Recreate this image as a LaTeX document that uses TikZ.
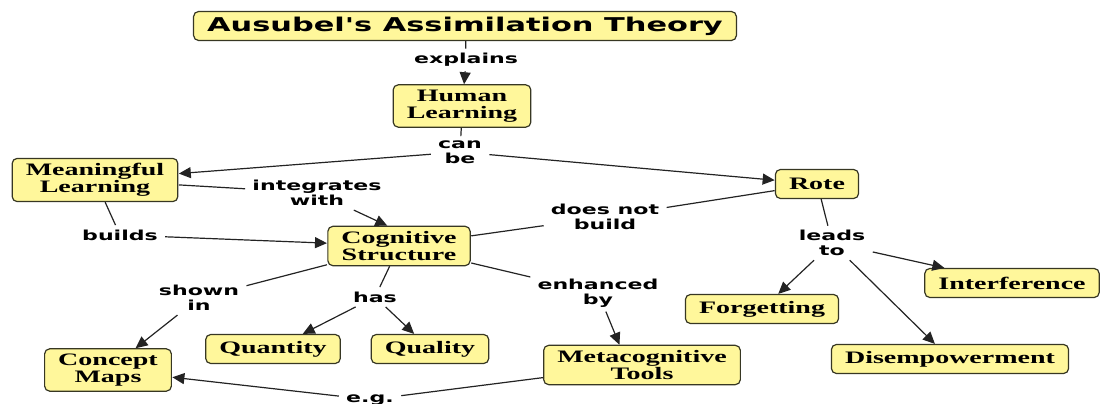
\documentclass[tikz,border=0pt]{standalone}
\usepackage{fontspec}
\setmainfont{Liberation Serif}
\newfontfamily\labelfont{DejaVu Sans}
\usetikzlibrary{arrows.meta}
\definecolor{cmfill}{RGB}{255,247,155}
\definecolor{cmedge}{RGB}{55,55,35}
\definecolor{cmline}{RGB}{35,35,35}

\begin{document}
\begin{tikzpicture}[x=0.625pt,y=-1pt,xscale=1.6,line width=1.2pt,
  >={Triangle[length=12pt,width=11pt]},
  every node/.style={transform shape},
  concept/.style={draw=cmedge,fill=cmfill,rounded corners=5pt,line width=1.2pt,
    align=center,inner xsep=8.5pt,inner ysep=5pt,minimum height=29pt,
    font=\bfseries\fontsize{17.5}{17}\selectfont},
  phrase/.style={align=center,inner sep=4pt,
    font=\labelfont\bfseries\fontsize{13.8}{14.5}\selectfont},
  link/.style={draw=cmline}]
  \useasboundingbox (0,0) rectangle (1104,404);
  % concepts
  \node[concept,font=\labelfont\bfseries\fontsize{19}{20}\selectfont,inner ysep=5pt]
    (T) at (465,26) {Ausubel{\char"27}s Assimilation Theory};
  \node[concept] (HL) at (462,106) {Human\\Learning};
  \node[concept] (ML) at (95,180) {Meaningful\\Learning};
  \node[concept] (R) at (817,184) {Rote};
  \node[concept] (CS) at (399,246) {Cognitive\\Structure};
  \node[concept] (I) at (1012,283) {Interference};
  \node[concept] (F) at (762,309) {Forgetting};
  \node[concept] (D) at (950,359) {Disempowerment};
  \node[concept] (QN) at (273,349) {Quantity};
  \node[concept] (QL) at (430,349) {Quality};
  \node[concept] (MT) at (642,365) {Metacognitive\\Tools};
  \node[concept] (CM) at (108,370) {Concept\\Maps};
  % linking phrases
  \node[phrase] (ex) at (466,60) {explains};
  \node[phrase] (cb) at (460,152) {can\\be};
  \node[phrase] (iw) at (317,193) {integrates\\with};
  \node[phrase] (bu) at (120,235) {builds};
  \node[phrase] (dnb) at (605,217) {does not\\build};
  \node[phrase] (lt) at (832,243) {leads\\to};
  \node[phrase] (sh) at (199,298) {shown\\in};
  \node[phrase] (has) at (375,297) {has};
  \node[phrase] (eb) at (598,293) {enhanced\\by};
  \node[phrase,anchor=base] (eg) at (370,402) {e.g.};
  % connectors
  \draw[link] (T) -- (ex);
  \draw[link,->] (ex) -- (HL);
  \draw[link] (HL) -- (cb);
  \draw[link,->] (cb) -- (ML);
  \draw[link,->] (cb) -- (R);
  \draw[link] (ML) -- (iw);
  \draw[link,->] (iw) -- (CS.110);
  \draw[link] (ML) -- (bu);
  \draw[link,->] (bu) -- (CS);
  \draw[link] (R) -- (dnb);
  \draw[link] (dnb) -- (CS);
  \draw[link] (R) -- (lt);
  \draw[link,->] (lt) -- (F);
  \draw[link,->] (lt) -- (I);
  \draw[link,->] (lt) -- (D);
  \draw[link] (CS) -- (sh);
  \draw[link,->] (sh) -- (CM);
  \draw[link] (CS) -- (has);
  \draw[link,->] (has) -- (QN);
  \draw[link,->] (has) -- (QL);
  \draw[link] (CS) -- (eb);
  \draw[link,->] (eb) -- (MT.125);
  \draw[link] (MT) -- (eg);
  \draw[link,->] (eg) -- (CM);
\end{tikzpicture}
\end{document}
